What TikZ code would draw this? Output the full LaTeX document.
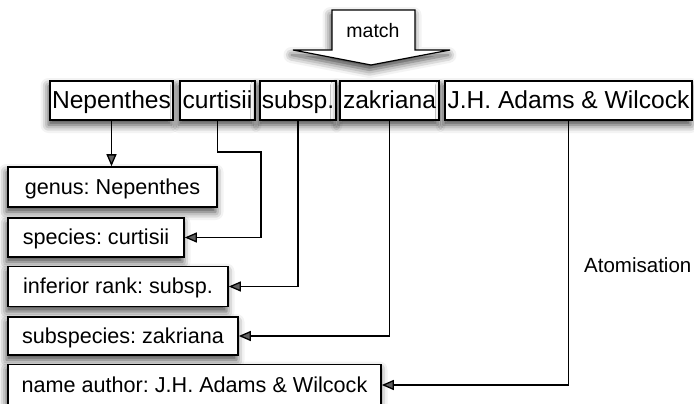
\documentclass[tikz,border=0pt]{standalone}
\usepackage{fontspec}
\setmainfont{Liberation Sans}
\usetikzlibrary{shadows.blur,arrows.meta}
\frenchspacing

\tikzset{
  soft/.style={blur shadow={shadow xshift=-1.5pt, shadow yshift=-5pt,
      shadow blur radius=8pt, shadow opacity=75}},
  wordbox/.style={draw, line width=1.6pt, fill=white, soft, inner sep=0pt,
      minimum height=39pt, text height=20pt, text depth=5pt,
      font=\fontsize{24.6}{28}\selectfont},
  fieldbox/.style={draw, line width=1.6pt, fill=white, soft, inner sep=0pt,
      text height=18pt, text depth=4pt,
      font=\fontsize{21.6}{25}\selectfont},
  link/.style={draw, line width=1.3pt,
      -{Triangle[length=12pt,width=10pt]}},
}

\begin{document}
\begin{tikzpicture}[x=1pt,y=-1pt]
\useasboundingbox (0,0) rectangle (694,404);
\clip (0,0) rectangle (694,404);

% the "match" block arrow
\filldraw[fill=white, line width=1.2pt, line join=miter, soft]
  (332,10) -- (415,10) -- (415,50) -- (450,50) -- (371,65)
  -- (293,50) -- (332,50) -- cycle;
\node[font=\fontsize{19.5}{22}\selectfont, text height=14pt, text depth=4pt] (match) at (373,33) {match};

% the full name, split into words
\node[wordbox, minimum width=123pt] (nep) at (111.5,100.5) {Nepenthes};
\node[wordbox, minimum width=75pt]  (cur) at (217.5,100.5) {curtisii};
\node[wordbox, minimum width=76pt]  (sub) at (298,100.5)   {subsp.};
\node[wordbox, minimum width=99pt]  (zak) at (389.5,100.5) {zakriana};
\node[wordbox, minimum width=247pt] (jha) at (568.5,100.5) {J.H. Adams \& Wilcock};

% the atomised fields
\node[fieldbox, minimum width=209pt, minimum height=40pt] (genus) at (112.5,187)  {genus: Nepenthes};
\node[fieldbox, minimum width=176pt, minimum height=39pt] (spec)  at (96,237.5)   {species: curtisii};
\node[fieldbox, minimum width=220pt, minimum height=40pt] (infr)  at (118,286.5)  {inferior rank: subsp.};
\node[fieldbox, minimum width=230pt, minimum height=38pt] (ssp)   at (123,336)    {subspecies: zakriana};
\node[fieldbox, minimum width=373pt, minimum height=41pt] (auth)  at (194.5,385)  {name author: J.H. Adams \& Wilcock};

\node[anchor=west, inner sep=0pt, font=\fontsize{20.5}{24}\selectfont] (atom) at (584,265) {Atomisation};

% connectors
\coordinate (curbend) at (261,152);
\path[link] (nep.south) -- (nep.south |- genus.north);
\path[link] (cur.south) |- (curbend) |- (spec.east);
\path[link] (sub.south) |- (infr.east);
\path[link] (zak.south) |- (ssp.east);
\path[link] (jha.south) |- (auth.east);
\end{tikzpicture}
\end{document}
